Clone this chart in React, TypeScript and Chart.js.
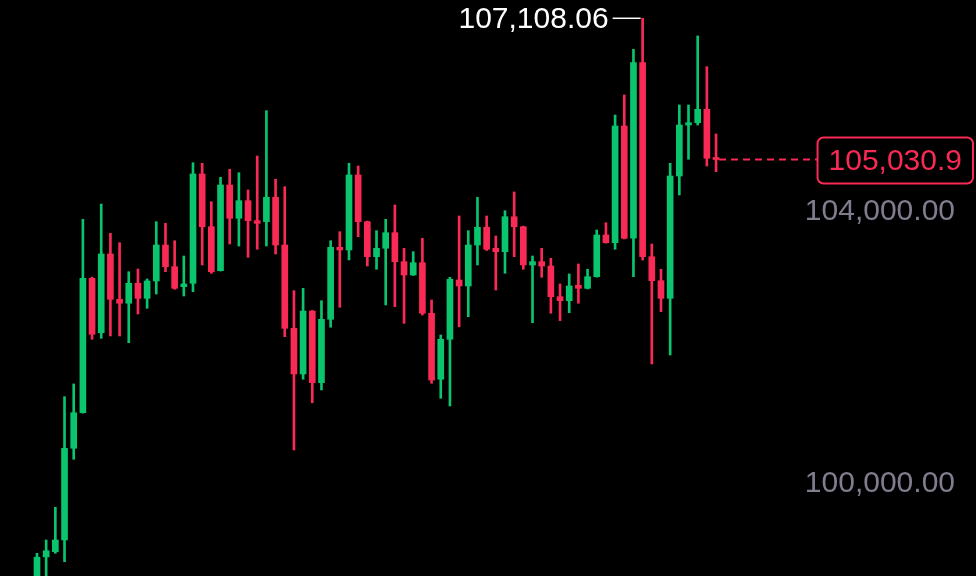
import React, { useEffect, useRef } from "react";
import { Chart, registerables } from "chart.js";

Chart.register(...registerables);

// Candle data (one entry per candle, left to right)
const opens = [
  98698, 99185, 99262, 99434, 100783, 101306, 103283, 102483, 103641, 102974,
  102916, 103210, 102989, 103244, 103773, 103454, 103160, 103210, 104818, 104042,
  103395, 104656, 104166, 104425, 104131, 104116, 104475, 103773, 102548, 101876,
  102802, 101748, 102680, 103739, 103700, 104803, 104116, 103601, 103725, 103954,
  103528, 103332, 103513, 102769, 101798, 102386, 103258, 103170, 103773, 104034,
  103725, 103675, 104189, 104042, 103479, 103528, 103464, 103013, 102954, 103180,
  103136, 103307, 103920, 103807, 105524, 103872, 106455, 103601, 103248, 102989,
  104788, 105538, 105572, 105769, 105049,
];
const highs = [
  99238, 99434, 99915, 101542, 101729, 104151, 103300, 104376, 103945, 103807,
  103380, 103420, 103273, 104116, 104092, 103836, 103611, 104984, 104975, 104410,
  104769, 104887, 104837, 104582, 105082, 105749, 104740, 104631, 103101, 103136,
  102810, 102954, 103836, 103969, 104975, 104935, 104125, 103984, 104151, 104362,
  103725, 103675, 103872, 102964, 102449, 103298, 104200, 103984, 104475, 104200,
  103906, 104278, 104553, 104050, 103611, 103725, 103578, 103200, 103347, 103494,
  103416, 103994, 104101, 105685, 105980, 106652, 107108.06, 103788, 103416, 104975,
  105833, 105833, 106848, 106396, 105406,
];
const lows = [
  98551, 98845, 99238, 99115, 100621, 101300, 102386, 102401, 102435, 102435,
  102336, 102758, 102842, 103052, 103380, 103122, 103023, 103086, 103479, 103357,
  103390, 103788, 103758, 103592, 103710, 103758, 103641, 102424, 100758, 101798,
  101453, 101640, 102563, 102857, 103553, 103895, 103464, 103416, 102891, 102866,
  102621, 103325, 102743, 101739, 101518, 101405, 102571, 102719, 103479, 103692,
  103111, 103357, 103601, 103416, 102630, 103298, 102769, 102660, 102777, 102916,
  103127, 103300, 103800, 103710, 103862, 103307, 103553, 102023, 102792, 102155,
  104509, 105034, 105538, 104935, 104851,
];
const closes = [
  99180, 99276, 99434, 100783, 101306, 103283, 102460, 103641, 102974, 102916,
  103210, 102989, 103244, 103773, 103454, 103136, 103200, 104818, 104042, 103380,
  104656, 104166, 104425, 104131, 104092, 104475, 103773, 102548, 101876, 102802,
  101748, 102680, 103739, 103700, 104803, 104116, 103601, 103725, 103954, 103528,
  103332, 103513, 102769, 101787, 102386, 103269, 103170, 103773, 104034, 103710,
  103675, 104189, 104042, 103479, 103528, 103464, 103013, 102954, 103170, 103136,
  103307, 103920, 103807, 105524, 103872, 106455, 103601, 103248, 102989, 104788,
  105538, 105572, 105769, 105049, 105030.9,
];
const yTickValues = [100000, 104000];

const GREEN = "#0BC46E";
const RED = "#F92A55";
const TICK_COLOR = "#827C8E";
const FONT = "'Liberation Sans', Arial, sans-serif";

const fmt2 = (v: number) =>
  v.toLocaleString("en-US", { minimumFractionDigits: 2, maximumFractionDigits: 2 });
const fmt1 = (v: number) =>
  v.toLocaleString("en-US", { minimumFractionDigits: 1, maximumFractionDigits: 1 });

export default function App() {
  const ref = useRef<HTMLCanvasElement>(null);

  useEffect(() => {
    document.body.style.margin = "0";
    document.body.style.background = "#000";
    const canvas = ref.current;
    if (!canvas) return;
    const idx = opens.map((_, i) => i);
    const colors = idx.map((i) => (closes[i] >= opens[i] ? GREEN : RED));

    const annot = {
      id: "annot",
      afterDatasetsDraw(chart: any) {
        const { ctx, scales, chartArea } = chart;
        const x = scales.x;
        const y = scales.y;
        ctx.save();
        ctx.font = `30px ${FONT}`;
        ctx.textBaseline = "middle";

        // y tick labels (sitting above their price level)
        ctx.fillStyle = TICK_COLOR;
        ctx.textAlign = "right";
        y.ticks.forEach((t: any) => {
          const py = y.getPixelForValue(t.value);
          ctx.fillText(fmt2(t.value), chartArea.right - 21, py - 17.6);
        });

        // highest high marker
        let hi = 0;
        highs.forEach((h, i) => {
          if (h > highs[hi]) hi = i;
        });
        const hx = x.getPixelForValue(hi);
        const hy = y.getPixelForValue(highs[hi]);
        ctx.strokeStyle = "#ffffff";
        ctx.lineWidth = 1.5;
        ctx.beginPath();
        ctx.moveTo(hx - 30, hy);
        ctx.lineTo(hx - 2, hy);
        ctx.stroke();
        ctx.fillStyle = "#ffffff";
        ctx.textAlign = "right";
        ctx.fillText(fmt2(highs[hi]), hx - 34, hy + 1);

        // last price line + box
        const li = closes.length - 1;
        const lx = x.getPixelForValue(li);
        const ly = y.getPixelForValue(closes[li]);
        const label = fmt1(closes[li]);
        const tw = ctx.measureText(label).width;
        const boxW = tw + 22;
        const boxH = 46;
        const boxR = chartArea.right - 3;
        const boxL = boxR - boxW;
        ctx.strokeStyle = RED;
        ctx.lineWidth = 2;
        ctx.setLineDash([7, 5]);
        ctx.beginPath();
        ctx.moveTo(lx + 3, ly);
        ctx.lineTo(boxL, ly);
        ctx.stroke();
        ctx.setLineDash([]);
        const top = ly - boxH / 2 + 1;
        ctx.fillStyle = "#000";
        ctx.beginPath();
        (ctx as any).roundRect(boxL, top, boxW, boxH, 6);
        ctx.fill();
        ctx.stroke();
        ctx.fillStyle = RED;
        ctx.textAlign = "center";
        ctx.fillText(label, boxL + boxW / 2, top + boxH / 2 + 1);
        ctx.restore();
      },
    };

    const chart = new Chart(canvas, {
      type: "bar",
      data: {
        datasets: [
          {
            label: "body",
            data: idx.map((i) => ({ x: i, y: [opens[i], closes[i]] })) as any,
            backgroundColor: colors,
            barThickness: 6,
            grouped: false,
            minBarLength: 2,
            borderWidth: 0,
          } as any,
          {
            label: "wick",
            data: idx.map((i) => ({ x: i, y: [lows[i], highs[i]] })) as any,
            backgroundColor: colors,
            barThickness: 2,
            grouped: false,
            borderWidth: 0,
          } as any,
        ],
      },
      options: {
        animation: false,
        responsive: false,
        maintainAspectRatio: false,
        layout: { padding: 0 },
        plugins: { legend: { display: false }, tooltip: { enabled: false } },
        scales: {
          x: {
            type: "linear",
            min: -4.032,
            max: 102.33,
            offset: false,
            display: false,
          },
          y: {
            position: "right",
            min: 98904,
            max: 107377,
            beginAtZero: false,
            grid: { display: false, drawTicks: false },
            border: { display: false },
            afterBuildTicks: (s: any) => {
              s.ticks = yTickValues.map((v) => ({ value: v }));
            },
            afterFit: (s: any) => {
              s.width = 0;
            },
            ticks: { display: false },
          } as any,
        },
      },
      plugins: [annot],
    });
    return () => chart.destroy();
  }, []);

  return (
    <div style={{ position: "fixed", left: 0, top: 0, width: 976, height: 576, background: "#000" }}>
      <canvas ref={ref} width={976} height={576} style={{ display: "block" }} />
    </div>
  );
}
